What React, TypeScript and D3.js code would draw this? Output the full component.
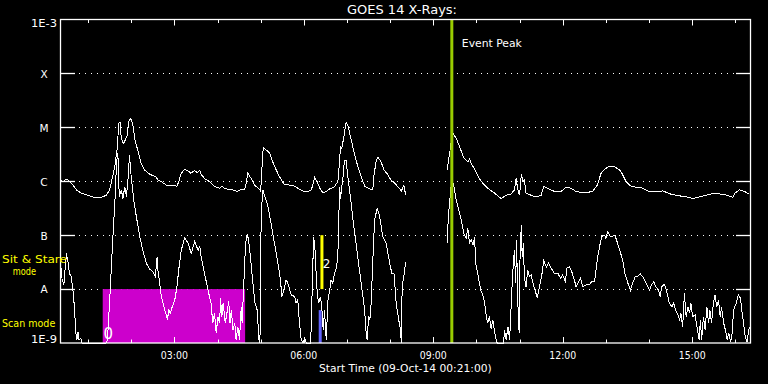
import React from 'react';
import * as d3 from 'd3';

// ---------- DATA ----------
// time in decimal UTC hours (09-Oct-14), flux as log10(W/m^2)
const startHour = 0.35; // 00:21
const endHour = 16.34;

const yLevelExps = [-3, -4, -5, -6, -7, -8, -9];
const yLevelLabels = ['1E-3', 'X', 'M', 'C', 'B', 'A', '1E-9'];

const majorTickHours = [3, 6, 9, 12, 15];
const majorTickLabels = ['03:00', '06:00', '09:00', '12:00', '15:00'];
const minorTickHours = [1, 2, 4, 5, 7, 8, 10, 11, 13, 14, 16];

// 1-8 Angstrom channel (upper curve), two segments around a data gap
const longA: [number, number][] = [
  [0.37,-5.99],[0.42,-6.01],[0.50,-5.96],[0.57,-6.00],[0.65,-6.07],[0.73,-6.16],[0.84,-6.22],[1.00,-6.26],[1.15,-6.30],[1.31,-6.30],[1.42,-6.26],[1.50,-6.16],[1.55,-5.98],[1.62,-5.73],[1.68,-5.36],[1.71,-4.93],[1.74,-4.90],[1.77,-5.20],[1.82,-5.30],[1.86,-5.24],[1.91,-5.14],[1.94,-4.90],[1.99,-4.83],[2.04,-4.96],[2.09,-5.24],[2.16,-5.45],[2.23,-5.67],[2.31,-5.79],[2.43,-5.87],[2.58,-5.92],[2.62,-5.98],[2.70,-6.01],[2.81,-6.07],[2.93,-6.08],[3.06,-6.09],[3.10,-6.01],[3.16,-5.85],[3.24,-5.78],[3.32,-5.81],[3.38,-5.85],[3.47,-5.80],[3.53,-5.84],[3.59,-5.80],
  [3.62,-5.87],[3.70,-5.95],[3.82,-6.01],[3.93,-6.10],[4.05,-6.13],[4.10,-6.09],[4.17,-6.14],[4.32,-6.15],[4.46,-6.19],[4.55,-6.15],[4.63,-6.16],[4.67,-6.01],[4.70,-5.85],[4.78,-5.95],[4.86,-6.07],[4.94,-6.13],[5.00,-6.18],[5.03,-5.76],[5.06,-5.37],[5.13,-5.42],[5.21,-5.48],[5.28,-5.64],[5.36,-5.79],[5.44,-5.92],[5.54,-6.05],[5.67,-6.07],[5.79,-6.09],[5.86,-6.13],[5.98,-6.18],[6.09,-6.19],[6.17,-6.16],[6.21,-6.07],[6.25,-5.93],[6.31,-6.01],[6.37,-6.13],[6.44,-6.21],[6.52,-6.19],[6.60,-6.14],[6.70,-6.11],[6.76,-6.04],[6.79,-6.01],
  [6.83,-5.61],[6.85,-5.36],[6.88,-5.39],[6.93,-5.17],[6.98,-4.91],[7.02,-4.96],[7.10,-5.24],[7.21,-5.61],[7.29,-5.82],[7.37,-6.01],[7.42,-6.10],[7.52,-6.14],[7.60,-6.16],[7.62,-5.92],[7.68,-5.61],[7.72,-5.56],[7.78,-5.62],[7.86,-5.79],[7.95,-5.88],[8.02,-5.98],[8.10,-6.03],[8.18,-6.10],[8.26,-6.18],[8.32,-6.07],[8.36,-6.26],
];
const longB: [number, number][] = [
  [9.32,-5.79],[9.38,-5.48],[9.41,-5.30],[9.45,-5.10],[9.53,-5.20],[9.61,-5.36],[9.71,-5.57],[9.80,-5.64],[9.84,-5.59],[9.88,-5.67],[9.97,-5.79],[10.07,-5.95],
  [10.15,-6.04],[10.26,-6.13],[10.42,-6.22],[10.57,-6.32],[10.69,-6.26],[10.80,-6.24],[10.88,-6.16],[10.92,-5.95],[10.96,-6.16],[11.00,-6.26],[11.04,-5.87],[11.08,-6.01],[11.11,-5.98],[11.15,-6.22],[11.27,-6.26],[11.38,-6.29],[11.50,-6.26],[11.56,-6.10],[11.65,-6.13],[11.81,-6.19],[11.96,-6.19],[12.08,-6.11],[12.19,-6.13],[12.31,-6.19],[12.43,-6.21],[12.58,-6.21],[12.70,-6.18],[12.80,-6.07],[12.89,-5.85],[12.97,-5.78],[13.08,-5.72],[13.20,-5.73],[13.32,-5.79],
  [13.37,-5.85],[13.47,-6.01],[13.58,-6.09],[13.70,-6.11],[13.82,-6.12],[13.97,-6.18],[14.13,-6.19],[14.32,-6.18],[14.51,-6.24],[14.70,-6.27],[14.86,-6.29],[15.01,-6.32],[15.17,-6.29],[15.32,-6.26],[15.52,-6.22],[15.67,-6.24],[15.82,-6.26],[15.94,-6.30],[15.99,-6.22],[16.09,-6.16],[16.21,-6.19],[16.33,-6.24],
];

// 0.5-4 Angstrom channel (lower curve)
const shortA: [number, number][] = [
  [0.37,-7.59],[0.40,-7.83],[0.44,-7.92],[0.46,-7.71],[0.50,-7.34],[0.54,-7.52],[0.57,-7.71],[0.61,-7.77],[0.65,-8.02],[0.69,-8.39],[0.71,-8.76],[0.74,-8.94],[0.77,-8.79],[0.79,-8.94],[0.83,-8.91],[0.86,-9.2],[1.42,-9.2],[1.45,-8.94],[1.50,-8.23],[1.54,-7.59],[1.58,-6.97],[1.62,-6.41],[1.65,-5.85],[1.68,-5.48],[1.71,-5.67],[1.72,-6.29],[1.77,-6.16],[1.81,-6.32],[1.85,-6.10],[1.89,-6.29],[1.93,-5.92],[1.96,-5.51],[2.00,-5.92],[2.06,-6.35],[2.12,-6.66],[2.20,-7.03],[2.27,-7.28],[2.35,-7.52],[2.43,-7.63],[2.50,-7.68],[2.56,-7.77],[2.60,-7.40],[2.62,-7.65],[2.66,-7.89],[2.70,-8.14],[2.76,-8.33],[2.79,-8.42],[2.84,-8.57],[2.87,-8.39],[2.91,-8.45],[2.95,-8.33],[3.01,-8.20],[3.06,-7.96],[3.10,-7.65],[3.16,-7.28],[3.24,-7.05],[3.32,-7.15],[3.39,-7.34],[3.47,-7.12],[3.55,-7.28],[3.59,-7.21],
  [3.62,-7.40],[3.70,-7.71],[3.78,-8.02],[3.85,-8.26],[3.89,-8.63],[3.93,-8.45],[3.97,-8.82],[4.01,-8.51],[4.05,-8.63],[4.07,-8.17],[4.10,-8.51],[4.13,-8.26],[4.18,-8.63],[4.23,-8.39],[4.26,-8.23],[4.29,-8.63],[4.32,-8.39],[4.36,-8.76],[4.40,-8.63],[4.43,-8.94],[4.47,-8.70],[4.51,-8.94],[4.55,-8.33],[4.57,-8.63],[4.61,-7.89],[4.65,-7.15],[4.69,-6.98],[4.72,-7.09],[4.77,-7.46],[4.82,-7.89],[4.87,-8.26],[4.92,-8.39],[4.96,-8.94],[4.98,-9.2],[5.00,-8.39],[5.01,-6.66],[5.05,-6.16],[5.09,-6.26],[5.17,-6.47],[5.24,-6.78],[5.32,-7.15],[5.40,-7.52],[5.46,-7.83],[5.49,-8.14],[5.54,-8.02],[5.59,-7.83],[5.63,-7.89],[5.71,-8.11],[5.79,-8.14],[5.82,-8.26],[5.86,-8.20],[5.90,-8.63],[5.94,-8.94],[5.98,-9.2],[6.02,-8.91],[6.06,-9.2],[6.16,-9.2],[6.19,-8.14],[6.21,-7.52],[6.23,-7.03],[6.26,-7.28],[6.30,-7.96],[6.34,-8.26],[6.39,-8.14],[6.42,-8.39],[6.45,-8.76],[6.48,-8.39],[6.52,-8.94],[6.56,-8.20],[6.60,-8.02],[6.63,-7.83],[6.67,-7.89],[6.71,-7.71],[6.76,-7.59],[6.79,-7.34],
  [6.83,-6.10],[6.85,-6.32],[6.88,-6.10],[6.91,-5.92],[6.94,-5.61],[6.98,-5.61],[7.02,-5.92],[7.08,-6.29],[7.14,-6.72],[7.21,-7.15],[7.29,-7.65],[7.35,-8.02],[7.41,-8.39],[7.45,-8.88],[7.47,-8.94],[7.50,-8.51],[7.53,-8.57],[7.56,-8.26],[7.60,-7.46],[7.64,-6.72],[7.70,-6.50],[7.76,-6.66],[7.83,-7.03],[7.91,-7.15],[7.99,-7.52],[8.04,-7.71],[8.09,-7.71],[8.14,-8.26],[8.20,-8.57],[8.24,-8.76],[8.26,-9.2],[8.27,-8.20],[8.30,-7.83],[8.33,-7.71],[8.36,-7.49],
];
const shortB: [number, number][] = [
  [9.32,-7.15],[9.35,-6.66],[9.39,-6.29],[9.43,-5.95],[9.48,-6.10],[9.53,-6.35],[9.59,-6.53],[9.65,-6.72],[9.71,-6.97],[9.76,-7.06],[9.80,-6.87],[9.84,-7.15],[9.88,-7.09],[9.92,-7.18],[9.96,-7.03],[9.98,-7.52],[10.03,-7.71],[10.10,-8.02],[10.15,-8.11],[10.19,-8.26],[10.22,-8.45],[10.26,-8.63],[10.30,-8.51],[10.34,-8.73],[10.38,-8.57],[10.42,-8.79],[10.46,-8.94],[10.48,-9.2],[10.63,-9.2],[10.65,-8.76],[10.69,-8.94],[10.73,-8.70],[10.77,-8.94],[10.80,-8.39],[10.84,-7.71],[10.88,-7.28],[10.91,-7.89],[10.93,-7.09],[10.96,-8.26],[10.99,-8.82],[11.01,-7.46],[11.04,-6.81],[11.06,-7.40],[11.09,-7.15],[11.11,-7.77],[11.15,-7.96],[11.19,-7.65],[11.23,-7.77],[11.27,-7.74],[11.31,-7.89],[11.36,-8.02],[11.41,-8.17],[11.46,-7.96],[11.52,-7.71],[11.56,-7.47],[11.62,-7.59],[11.67,-7.52],[11.73,-7.61],[11.81,-7.71],[11.89,-7.71],[11.95,-7.80],[12.00,-7.74],[12.06,-7.86],[12.10,-7.61],[12.16,-7.59],[12.21,-7.68],[12.27,-7.83],[12.31,-7.96],[12.35,-7.89],[12.41,-7.80],[12.47,-7.96],[12.54,-7.92],[12.62,-7.92],[12.67,-7.86],[12.74,-7.86],[12.77,-7.65],[12.81,-7.40],[12.87,-7.15],[12.91,-7.02],[12.97,-7.00],[13.00,-7.06],[13.04,-6.94],[13.11,-7.03],[13.16,-7.02],[13.21,-7.00],[13.26,-7.12],[13.32,-7.28],
  [13.39,-7.46],[13.44,-7.71],[13.51,-7.89],[13.57,-8.02],[13.62,-7.89],[13.68,-7.77],[13.74,-7.76],[13.80,-7.72],[13.88,-7.80],[13.95,-7.92],[14.01,-8.02],[14.06,-7.92],[14.11,-7.86],[14.16,-7.96],[14.22,-8.02],[14.26,-8.14],[14.29,-7.96],[14.36,-7.91],[14.42,-8.08],[14.47,-8.26],[14.53,-8.33],[14.57,-8.26],[14.62,-8.39],[14.67,-8.48],[14.71,-8.57],[14.74,-8.45],[14.78,-8.70],[14.82,-8.08],[14.86,-8.51],[14.90,-8.33],[14.94,-8.45],[14.97,-8.26],[15.01,-8.51],[15.07,-8.48],[15.11,-8.70],[15.16,-8.94],[15.19,-8.57],[15.22,-8.94],[15.26,-8.51],[15.30,-8.76],[15.34,-8.33],[15.38,-8.63],[15.41,-8.39],[15.45,-8.63],[15.49,-8.26],[15.53,-8.11],[15.57,-8.33],[15.61,-8.20],[15.65,-8.51],[15.68,-8.33],[15.73,-8.63],[15.77,-8.76],[15.81,-8.94],[15.85,-8.82],[15.89,-8.98],[15.92,-8.88],[15.96,-8.39],[16.02,-8.26],[16.07,-8.11],[16.12,-8.17],[16.15,-8.39],[16.19,-8.63],[16.23,-8.88],[16.27,-8.98],[16.31,-8.76],[16.33,-8.70],
];

// overlays
const scanWindow = [1.34, 4.64];          // hours
const scanFlux = [-9, -8];                // log10 range
const sitStareTime = 6.42;
const sitStareFlux = [-8, -7];
const blueTime = 6.38;
const blueFlux = [-9, -8.39];
const eventPeakTime = 9.43;
const annotations = [
  { label: '0', time: 1.47 },
  { label: '2', time: 6.53 },
];

const titleText = 'GOES 14 X-Rays:';
const xAxisTitle = 'Start Time (09-Oct-14 00:21:00)';

// ---------- CHART ----------
const FONT = 'DejaVu Sans, sans-serif';

export default function App() {
  const x = d3.scaleLinear().domain([startHour, endHour]).range([60, 750]);
  const y = d3.scaleLog().domain([1e-9, 1e-3]).range([343, 19.5]).clamp(true);
  const fy = (e: number) => y(Math.pow(10, e));

  const line = d3
    .line<[number, number]>()
    .x((d) => x(d[0]))
    .y((d) => fy(d[1]));

  const x0 = x(startHour);
  const x1 = x(endHour);
  const yTop = fy(-3);
  const yBot = fy(-9);

  return (
    <svg
      width={768}
      height={384}
      style={{ position: 'fixed', left: 0, top: 0, display: 'block', background: '#000' }}
      fontFamily={FONT}
    >
      <rect x={0} y={0} width={768} height={384} fill="#000" />

      {/* dotted gridlines */}
      {yLevelExps.slice(1, -1).map((e) => (
        <line
          key={'g' + e}
          x1={x0 + 19}
          x2={x1 - 14}
          y1={Math.round(fy(e)) + 0.5}
          y2={Math.round(fy(e)) + 0.5}
          stroke="#fff"
          strokeWidth={1}
          strokeDasharray="1 5"
        />
      ))}

      {/* scan-mode window */}
      <rect
        x={x(scanWindow[0])}
        y={fy(scanFlux[1])}
        width={x(scanWindow[1]) - x(scanWindow[0])}
        height={fy(scanFlux[0]) - fy(scanFlux[1])}
        fill="#cc00cc"
      />
      {/* blue mark */}
      <line
        x1={x(blueTime)}
        x2={x(blueTime)}
        y1={fy(blueFlux[0])}
        y2={fy(blueFlux[1])}
        stroke="#6464ff"
        strokeWidth={3}
      />
      {/* sit & stare mark */}
      <line
        x1={x(sitStareTime)}
        x2={x(sitStareTime)}
        y1={fy(sitStareFlux[0])}
        y2={fy(sitStareFlux[1])}
        stroke="#ffff00"
        strokeWidth={3}
      />

      {/* curves */}
      {[longA, longB, shortA, shortB].map((s, i) => (
        <path
          key={'c' + i}
          d={line(s) || ''}
          fill="none"
          stroke="#fff"
          strokeWidth={1}
          shapeRendering="crispEdges"
        />
      ))}

      {/* annotation numbers */}
      <text x={x(annotations[0].time)} y={yBot - 4} fill="#fff" fontSize={15} textAnchor="middle">
        {annotations[0].label}
      </text>
      <text x={x(annotations[1].time)} y={fy(-7.6)} fill="#fff" fontSize={12} textAnchor="middle">
        {annotations[1].label}
      </text>

      {/* event peak */}
      <line
        x1={x(eventPeakTime)}
        x2={x(eventPeakTime)}
        y1={yTop}
        y2={yBot}
        stroke="#99cc00"
        strokeWidth={3}
      />
      <text x={x(eventPeakTime) + 10} y={47} fill="#fff" fontSize={11} textLength={60} lengthAdjust="spacingAndGlyphs">
        Event Peak
      </text>

      {/* frame */}
      <rect
        x={x0 + 0.5}
        y={yTop}
        width={x1 - x0}
        height={yBot - yTop}
        fill="none"
        stroke="#fff"
        strokeWidth={1.3}
      />

      {/* y ticks both sides */}
      {yLevelExps.slice(1, -1).map((e) => (
        <g key={'yt' + e}>
          <line x1={x0} x2={x0 + 15} y1={Math.round(fy(e)) + 0.5} y2={Math.round(fy(e)) + 0.5} stroke="#fff" strokeWidth={1.3} />
          <line x1={x1 - 14} x2={x1} y1={Math.round(fy(e)) + 0.5} y2={Math.round(fy(e)) + 0.5} stroke="#fff" strokeWidth={1.3} />
        </g>
      ))}

      {/* x ticks top and bottom */}
      {minorTickHours.map((h) => (
        <g key={'mt' + h}>
          <line x1={Math.round(x(h)) + 0.5} x2={Math.round(x(h)) + 0.5} y1={yTop} y2={yTop + 3.5} stroke="#fff" />
          <line x1={Math.round(x(h)) + 0.5} x2={Math.round(x(h)) + 0.5} y1={yBot} y2={yBot - 3.5} stroke="#fff" />
        </g>
      ))}
      {majorTickHours.map((h, i) => (
        <g key={'Mt' + h}>
          <line x1={Math.round(x(h)) + 0.5} x2={Math.round(x(h)) + 0.5} y1={yTop} y2={yTop + 6} stroke="#fff" />
          <line x1={Math.round(x(h)) + 0.5} x2={Math.round(x(h)) + 0.5} y1={yBot} y2={yBot - 6} stroke="#fff" />
          <text
            x={x(h)}
            y={359.3}
            fill="#fff"
            fontSize={10.5}
            textAnchor="middle"
            textLength={27}
            lengthAdjust="spacingAndGlyphs"
          >
            {majorTickLabels[i]}
          </text>
        </g>
      ))}

      {/* y labels */}
      {yLevelExps.map((e, i) => {
        const lbl = yLevelLabels[i];
        let yy = fy(e) + 4.4;
        if (i === 0) yy = fy(e) + 7.3;
        if (i === yLevelExps.length - 1) yy = fy(e) + 0.3;
        const long = lbl.length > 1;
        return (
          <text
            key={'yl' + e}
            x={44}
            y={yy}
            fill="#fff"
            fontSize={10.5}
            textAnchor="middle"
            {...(long ? { textLength: 26, lengthAdjust: 'spacingAndGlyphs' } : {})}
          >
            {lbl}
          </text>
        );
      })}

      {/* mode labels */}
      <text x={2} y={263.3} fill="#ffff00" fontSize={11} textLength={65} lengthAdjust="spacingAndGlyphs">
        Sit &amp; Stare
      </text>
      <text x={12.7} y={275} fill="#ffff00" fontSize={11} textLength={23.3} lengthAdjust="spacingAndGlyphs">
        mode
      </text>
      <text x={2} y={327.3} fill="#ffff00" fontSize={11} textLength={53.3} lengthAdjust="spacingAndGlyphs">
        Scan mode
      </text>

      {/* titles */}
      <text x={347} y={14} fill="#fff" fontSize={12} textLength={110} lengthAdjust="spacingAndGlyphs">
        {titleText}
      </text>
      <text x={319} y={372} fill="#fff" fontSize={10.5} textLength={172.7} lengthAdjust="spacingAndGlyphs">
        {xAxisTitle}
      </text>
    </svg>
  );
}
